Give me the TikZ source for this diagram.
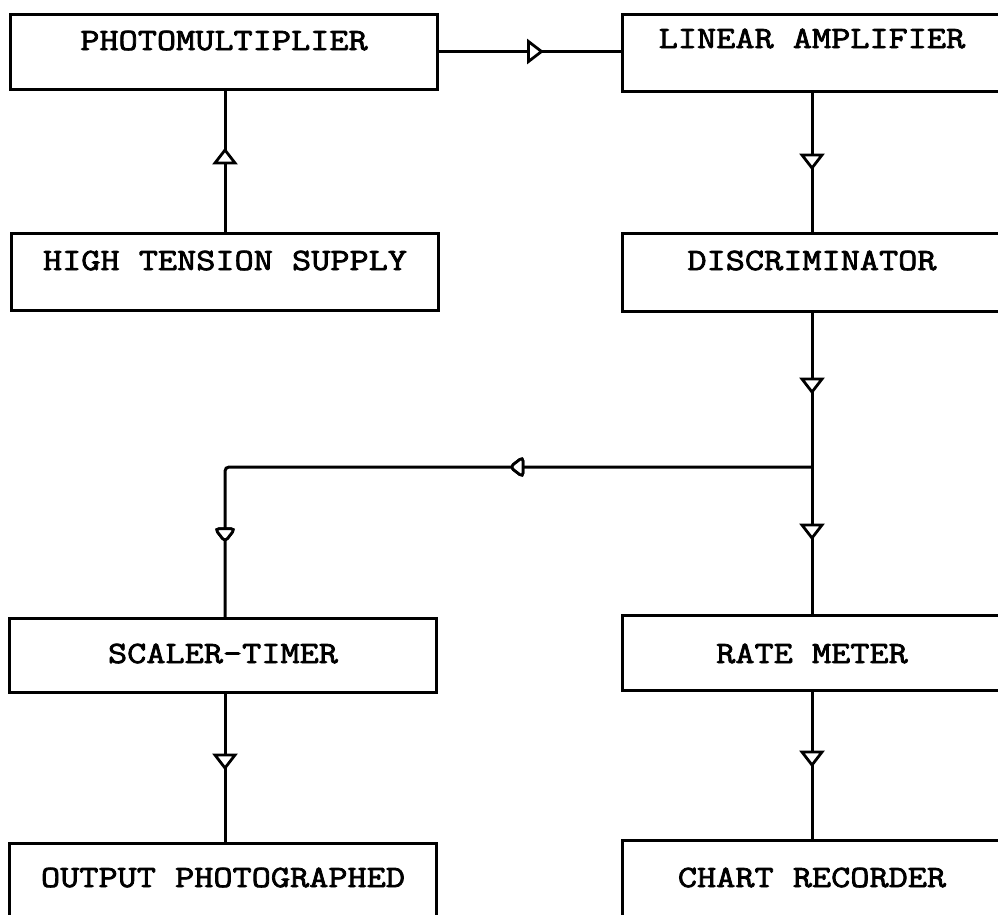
\documentclass[tikz,border=0pt]{standalone}
\usepackage{fontspec}
\newfontfamily\tw{Latin Modern Mono}[FakeStretch=1.2, FakeBold=2.5]
\usetikzlibrary{decorations.markings}
\tikzset{
  blk/.style={draw, line width=3pt, inner sep=0pt, outer sep=0pt, anchor=north, font=\tw\fontsize{31}{35}\selectfont},
  lft/.style={blk, minimum width=427pt},
  rgt/.style={blk, minimum width=380pt},
  conn/.style={line width=3pt},
  tipat/.style={postaction={decorate}, decoration={markings,
     mark=at position #1 with {\draw[line width=2.8pt, fill=white, line join=miter] (-13,-10) -- (-13,10) -- (0,0) -- cycle;}}}
}
\begin{document}
\begin{tikzpicture}[x=1pt,y=-1pt]
\useasboundingbox (0,0) rectangle (998,914);
\fill[white] (0,0) rectangle (998,914);
\clip (0,0) rectangle (998,914);
% boxes
\node[lft, text height=36pt, text depth=39pt] (pm) at (224,14) {PHOTOMULTIPLIER};
\node[rgt, text height=34pt, text depth=43pt] (la) at (812,14) {LINEAR AMPLIFIER};
\node[lft, text height=37pt, text depth=40pt] (ht) at (225,233) {HIGH TENSION SUPPLY};
\node[rgt, text height=37pt, text depth=41pt] (disc) at (812,233) {DISCRIMINATOR};
\node[lft, text height=45pt, text depth=29pt] (st) at (223,618) {SCALER-TIMER};
\node[rgt, text height=48pt, text depth=27pt] (rm) at (812,615) {RATE METER};
\node[lft, text height=44pt, text depth=100pt] (op) at (223,843) {OUTPUT PHOTOGRAPHED};
\node[rgt, text height=47pt, text depth=100pt] (cr) at (812,840) {CHART RECORDER};
% junction points
\coordinate (j) at (812,467);
\coordinate (c) at (225,467);
% connectors
\draw[conn, tipat=104pt] (pm.east) -- (pm.east -| la.west);
\draw[conn, tipat=83pt] (ht.north) -- (ht.north |- pm.south);
\draw[conn, tipat=77pt] (la.south) -- (disc.north);
\draw[conn, tipat=81pt] (disc.south) -- (j);
\draw[conn, tipat=71pt] (j) -- (rm.north);
\draw[conn, rounded corners=4pt, tipat=302pt, tipat=660pt] (j) -- (c) -- (c |- st.north);
\draw[conn, tipat=76pt] (st.south -| c) -- (c |- op.north);
\draw[conn, tipat=75pt] (rm.south) -- (cr.north);
\end{tikzpicture}
\end{document}
